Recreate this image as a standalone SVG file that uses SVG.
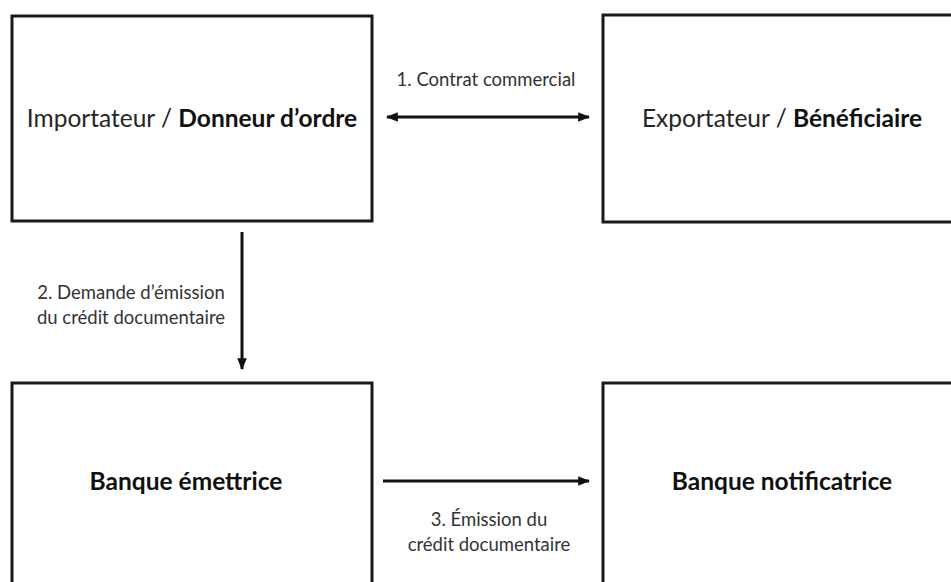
<svg xmlns="http://www.w3.org/2000/svg" width="951" height="582" viewBox="0 0 951 582">
<style>
.box{fill:#fff;stroke:#1a1a1a;stroke-width:3}
.t{font-family:Lato,"Open Sans","Liberation Sans",sans-serif;fill:#262626;text-anchor:middle}
.big{font-size:24.5px}
.b{font-weight:bold;fill:#111}
.sm{font-size:18.5px;fill:#333}
.c{stroke:#111;stroke-width:3;fill:none}
</style>
<defs>
<marker id="ah" viewBox="0 0 10 10" refX="9" refY="5" markerWidth="4" markerHeight="4" orient="auto-start-reverse">
<path d="M0,1 L10,5 L0,9 Z" fill="#111"/>
</marker>
</defs>
<rect width="951" height="582" fill="#fff"/>
<g id="importateur">
<rect class="box" x="12" y="16" width="360" height="205"/>
<text class="t big" x="192" y="127">Importateur / <tspan class="b">Donneur d’ordre</tspan></text>
</g>
<g id="exportateur">
<rect class="box" x="603" y="15" width="370" height="207"/>
<text class="t big" x="782" y="127">Exportateur / <tspan class="b">Bénéficiaire</tspan></text>
</g>
<g id="banque-emettrice">
<rect class="box" x="12" y="383" width="360" height="230"/>
<text class="t big b" x="186" y="490">Banque émettrice</text>
</g>
<g id="banque-notificatrice">
<rect class="box" x="603" y="383" width="370" height="230"/>
<text class="t big b" x="782" y="490">Banque notificatrice</text>
</g>
<g id="connectors">
<line class="c" x1="387" y1="117" x2="589" y2="117" marker-start="url(#ah)" marker-end="url(#ah)"/>
<text class="t sm" x="486" y="86">1. Contrat commercial</text>
<line class="c" x1="242" y1="232" x2="242" y2="369" marker-end="url(#ah)"/>
<text class="t sm" x="131" y="299">2. Demande d’émission</text>
<text class="t sm" x="131" y="324">du crédit documentaire</text>
<line class="c" x1="383" y1="481" x2="589" y2="481" marker-end="url(#ah)"/>
<text class="t sm" x="489" y="526">3. Émission du</text>
<text class="t sm" x="489" y="551">crédit documentaire</text>
</g>
</svg>
